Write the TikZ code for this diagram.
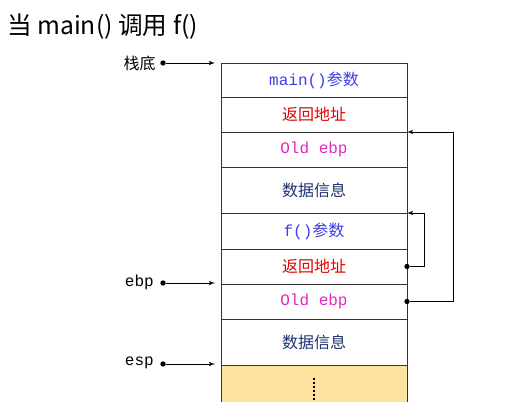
\documentclass[tikz,border=0pt]{standalone}
\usepackage{fontspec}
\setmainfont{Liberation Sans}
\setmonofont{Liberation Mono}
\newfontfamily\cjk{Noto Sans CJK SC}
\usetikzlibrary{positioning, arrows}
\definecolor{argblue}{RGB}{60,60,235}
\definecolor{retred}{RGB}{225,0,0}
\definecolor{ebpmag}{RGB}{225,40,190}
\definecolor{datnavy}{RGB}{30,50,110}
\definecolor{stkyellow}{RGB}{253,226,160}
\tikzset{
  cell/.style={draw=black!80, minimum width=139.5pt, inner sep=0pt, outer sep=0pt},
  ptr/.style={draw, -latex', line width=0.6pt},
  dot/.style={circle, fill, inner sep=0pt, minimum size=4pt},
}

\begin{document}
\begin{tikzpicture}[x=0.75pt, y=-0.75pt, font=\fontsize{12}{14}\selectfont]
	\tikzstyle{lbl}=[anchor=east, inner sep=0pt]
	\useasboundingbox (0,0) rectangle (517,402);

	\node[anchor=west, inner sep=0pt, font=\cjk\fontsize{18.5}{22}\selectfont] (title) at (7,27) {当 main() 调用 f()};

	% stack cells, top to bottom
	\node[cell, anchor=north, minimum height=25.5pt] (margs) at (314,63) {\color{argblue}\texttt{main()}{\cjk 参数}};
	\node[cell, below=0pt of margs, minimum height=26.25pt] (ret1) {\color{retred}\cjk 返回地址};
	\node[cell, below=0pt of ret1, minimum height=26.25pt] (oebp1) {\color{ebpmag}\texttt{Old ebp}};
	\node[cell, below=0pt of oebp1, minimum height=34.5pt] (data1) {\color{datnavy}\cjk 数据信息};
	\node[cell, below=0pt of data1, minimum height=27pt] (fargs) {\color{argblue}\texttt{f()}{\cjk 参数}};
	\node[cell, below=0pt of fargs, minimum height=26.25pt] (ret2) {\color{retred}\cjk 返回地址};
	\node[cell, below=0pt of ret2, minimum height=26.25pt] (oebp2) {\color{ebpmag}\texttt{Old ebp}};
	\node[cell, below=0pt of oebp2, minimum height=34.5pt] (data2) {\color{datnavy}\cjk 数据信息};
	\node[cell, draw=none, fill=stkyellow, below=0pt of data2, minimum height=30pt] (free) {};
	\draw[black!80] (free.south west) -- (free.north west) -- (free.north east) -- (free.south east);
	\draw[dotted, line width=1pt] ([yshift=-10pt]free.north) -- (free.south);

	% pointers on the left
	\node[dot] (d0) at (163,63) {};
	\node[dot] (d1) at (163,283) {};
	\node[dot] (d2) at (163,364) {};
	\node[lbl, font=\cjk\fontsize{12}{14}\selectfont] (base) at (156,63) {栈底};
	\node[lbl, font=\ttfamily\fontsize{12}{14}\selectfont] (ebp) at (154,282) {ebp};
	\node[lbl, font=\ttfamily\fontsize{12}{14}\selectfont] (esp) at (154,363) {esp};
	\path[ptr, shorten >=4.5pt] (d0) -- (d0 -| margs.west);
	\path[ptr, shorten >=4.5pt] (d1) -- (d1 -| oebp2.west);
	\path[ptr, shorten >=4.5pt] (d2) -- (d2 -| free.west);

	% saved links on the right
	\node[dot] (r1) at (ret2.east) {};
	\node[dot] (r2) at (oebp2.east) {};
	\path[ptr] (r1) -- ++(17,0) |- (fargs.north east);
	\path[ptr] (r2) -- ++(46,0) |- (oebp1.north east);
\end{tikzpicture}
\end{document}
